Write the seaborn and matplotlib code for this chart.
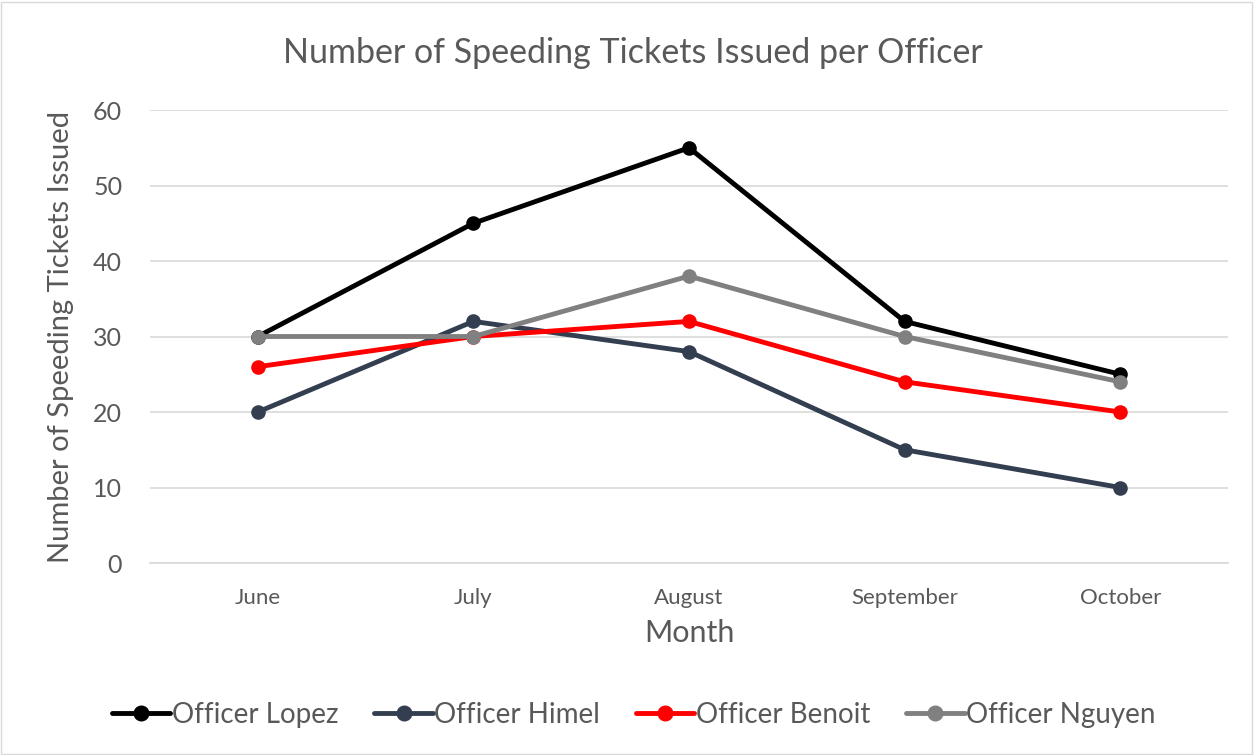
import pandas as pd
import seaborn as sns
import matplotlib.pyplot as plt
from matplotlib.patches import Rectangle

months = ["June", "July", "August", "September", "October"]
officers = ["Officer Lopez", "Officer Himel", "Officer Benoit", "Officer Nguyen"]
lopez = [30, 45, 55, 32, 25]
himel = [20, 32, 28, 15, 10]
benoit = [26, 30, 32, 24, 20]
nguyen = [30, 30, 38, 30, 24]
colors = ["#000000", "#333F50", "#FF0000", "#808080"]

rows = []
for name, vals in zip(officers, [lopez, himel, benoit, nguyen]):
    for m, v in zip(months, vals):
        rows.append({"Month": m, "Tickets": v, "Officer": name})
df = pd.DataFrame(rows)

sns.set_theme(style="white")
plt.rcParams['font.family'] = ['Lato', 'DejaVu Sans']
txt = "#595959"

fig = plt.figure(figsize=(12.55, 7.55), dpi=100)
ax = fig.add_axes([0.1195, 0.2543, 0.859, 0.6])

sns.lineplot(data=df, x="Month", y="Tickets", hue="Officer", hue_order=officers,
             palette=colors, marker="o", markersize=10.5, markeredgewidth=0,
             linewidth=3.5, sort=False, ax=ax, legend=False)

ax.set_xlim(-0.5, 4.5)
ax.set_ylim(0, 60)
ax.set_yticks(range(0, 61, 10))
ax.yaxis.grid(True, color="#D9D9D9", linewidth=1.2)
ax.set_axisbelow(True)
for s in ["top", "right", "left"]:
    ax.spines[s].set_visible(False)
ax.spines["bottom"].set_color("#D9D9D9")
ax.spines["bottom"].set_linewidth(1.2)
ax.tick_params(axis="y", labelsize=18, labelcolor=txt, length=0, pad=20)
ax.tick_params(axis="x", labelsize=16, labelcolor=txt, length=0, pad=18)
ax.set_xlabel("Month", fontsize=22, color=txt, labelpad=8)
ax.set_ylabel("Number of Speeding Tickets Issued", fontsize=21, color=txt, labelpad=14)
fig.text(0.504, 0.93, "Number of Speeding Tickets Issued per Officer", fontsize=24.5,
         color=txt, ha="center", va="center")

handles = [plt.Line2D([], [], color=c, marker="o", markersize=10.5, linewidth=3.5)
           for c in colors]
fig.legend(handles, officers, loc="center", bbox_to_anchor=(0.505, 0.053), ncol=4,
           frameon=False, fontsize=20, labelcolor=txt, handlelength=2.1,
           handletextpad=0.05, columnspacing=1.3)

fig.add_artist(Rectangle((0.001, 0.001), 0.997, 0.997, transform=fig.transFigure,
                         fill=False, edgecolor="#D9D9D9", linewidth=1))

fig.savefig("out.png", dpi=100)
